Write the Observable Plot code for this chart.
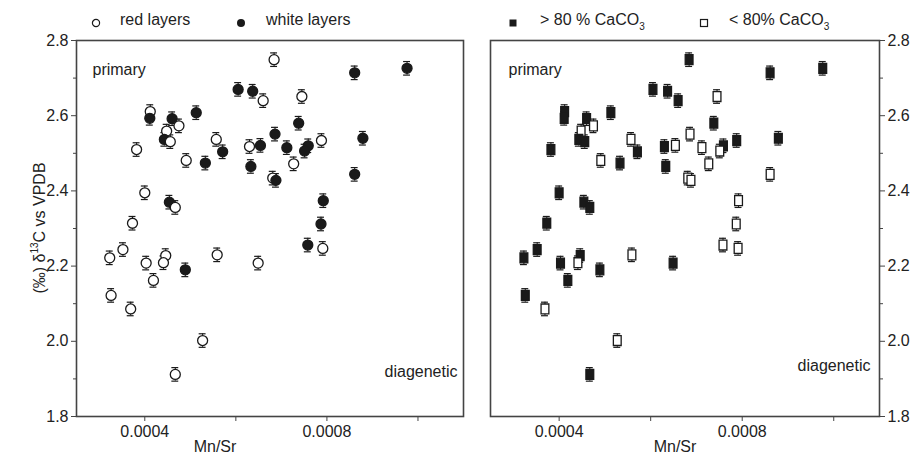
<!DOCTYPE html>
<html><head><meta charset="utf-8">
<script src="https://cdn.jsdelivr.net/npm/d3@7"></script>
<script src="https://cdn.jsdelivr.net/npm/@observablehq/plot@0.6"></script>
<style>
body{margin:0;background:#fff;}
#wrap{position:relative;width:914px;height:458px;font-family:"Liberation Sans",Arial,sans-serif;color:#222;font-size:16px;overflow:hidden;}
.abs{position:absolute;white-space:nowrap;line-height:1;}
.c{transform:translate(-50%,-50%);}
sub{font-size:10px;vertical-align:-5px;line-height:0;}
sup{font-size:10px;vertical-align:7px;line-height:0;}
</style></head><body>
<div id="wrap"></div>
<script>
// Mn/Sr ratio
const mnSr = [0.000684,0.000605,0.000637,0.000660,0.000412,0.000411,0.000460,0.000513,0.000448,0.000475,
              0.000443,0.000456,0.000382,0.000491,0.000533,0.000557,0.000571,0.000630,0.000654,0.000633,
              0.000686,0.000681,0.000688,0.000400,0.000454,0.000467,0.000373,0.000861,0.000976,0.000745,
              0.000738,0.000712,0.000759,0.000751,0.000788,0.000727,0.000879,0.000861,0.000792,0.000787,
              0.000758,0.000791,0.000649,0.000323,0.000352,0.000326,0.000369,0.000403,0.000419,0.000446,
              0.000441,0.000489,0.000559,0.000527,0.000467];
// d13C (permil vs VPDB)
const d13C = [2.749,2.670,2.665,2.640,2.611,2.593,2.592,2.608,2.559,2.573,
              2.537,2.531,2.510,2.481,2.474,2.537,2.504,2.518,2.521,2.465,
              2.551,2.434,2.428,2.395,2.370,2.356,2.314,2.714,2.726,2.651,
              2.580,2.515,2.520,2.506,2.534,2.472,2.540,2.444,2.374,2.312,
              2.256,2.247,2.208,2.222,2.244,2.122,2.086,2.208,2.162,2.228,
              2.209,2.190,2.230,2.002,1.912];
// layer type: r = red layers, w = white layers
const layer = ["r","w","w","r","r","w","w","w","r","r",
               "w","r","r","r","w","r","w","r","w","w",
               "w","r","w","r","w","r","r","w","w","r",
               "w","w","w","w","r","r","w","w","w","w",
               "w","r","r","r","r","r","r","r","r","r",
               "r","w","r","r","r"];
// CaCO3 class: hi = > 80 %, lo = < 80 %
const caco3 = ["hi","hi","hi","hi","hi","hi","hi","hi","lo","lo",
               "hi","hi","hi","lo","hi","lo","hi","hi","lo","hi",
               "lo","lo","lo","hi","hi","hi","hi","hi","hi","lo",
               "hi","lo","hi","lo","hi","lo","hi","lo","lo","lo",
               "lo","lo","hi","hi","hi","hi","lo","hi","hi","hi",
               "lo","hi","lo","lo","hi"];
const errHalf = 0.018;     // half error bar in d13C units
const capHalf = 0.0000076; // half width of error-bar caps in Mn/Sr units
const xTicks = [0.0004, 0.0008];
const xMinor = [0.0006, 0.001];
const yTicks = [1.8, 2.0, 2.2, 2.4, 2.6, 2.8];
const yMinor = [1.9, 2.1, 2.3, 2.5, 2.7];
const xDomain = [0.00025, 0.0011];
const yDomain = [1.8, 2.8];

const data = mnSr.map((x, i) => ({x, y: d13C[i], layer: layer[i], ca: caco3[i]}));
const INK = "#1a1a1a";

// slightly tall rectangle symbol, as in the reference
const tallSquare = {
  draw(ctx, size) {
    const s = Math.sqrt(size), w = s * 0.44, h = s * 0.56;
    ctx.moveTo(-w, -h); ctx.lineTo(w, -h); ctx.lineTo(w, h); ctx.lineTo(-w, h); ctx.closePath();
  }
};

function panel(o) {
  return Plot.plot({
    width: o.width, height: 458,
    marginLeft: o.ml, marginRight: o.mr, marginTop: 40, marginBottom: 42,
    style: {fontFamily: "'Liberation Sans', Arial, sans-serif", fontSize: "16px", color: "#222", background: "transparent", overflow: "visible"},
    x: {domain: xDomain},
    y: {domain: yDomain},
    marks: [
      Plot.axisX({ticks: xTicks, tickSize: 5, tickPadding: 4, tickFormat: d => d.toFixed(4), label: null, stroke: "#444"}),
      Plot.axisX({ticks: xMinor, tickSize: 5, tickFormat: () => "", label: null, stroke: "#444"}),
      Plot.axisY({anchor: o.yAnchor, ticks: yTicks, tickSize: 5, tickPadding: 3, tickFormat: d => d.toFixed(1), label: null, stroke: "#444"}),
      Plot.axisY({anchor: o.yAnchor, ticks: yMinor, tickSize: 3, tickFormat: () => "", label: null, stroke: "#444"}),
      Plot.frame({stroke: "#444", strokeWidth: 1.6}),
      Plot.ruleX(data, {x: "x", y1: d => d.y - errHalf, y2: d => d.y + errHalf, stroke: INK, strokeWidth: 1}),
      Plot.ruleY(data, {y: d => d.y - errHalf, x1: d => d.x - capHalf, x2: d => d.x + capHalf, stroke: INK, strokeWidth: 1.2}),
      Plot.ruleY(data, {y: d => d.y + errHalf, x1: d => d.x - capHalf, x2: d => d.x + capHalf, stroke: INK, strokeWidth: 1.2}),
      Plot.dot(data, {x: "x", y: "y", r: o.r, symbol: o.symbol, fill: o.fill, stroke: INK, strokeWidth: 1.3}),
      Plot.text(["primary"], {frameAnchor: "top-left", textAnchor: "start", lineAnchor: "middle", dx: o.pdx, dy: 29, fill: "#222", fontSize: 16}),
      Plot.text(["diagenetic"], {frameAnchor: "bottom-right", textAnchor: "end", lineAnchor: "middle", dx: o.ddx, dy: o.ddy, fill: "#222", fontSize: 16})
    ]
  });
}

const wrap = document.getElementById("wrap");

const left = panel({width: 470, ml: 76, mr: 7, yAnchor: "left", symbol: "circle", r: 5,
  fill: d => d.layer === "w" ? INK : "white", pdx: 16, ddx: -6, ddy: -45});
left.style.position = "absolute"; left.style.left = "0px"; left.style.top = "0px";
wrap.appendChild(left);

const right = panel({width: 444, ml: 20, mr: 35, yAnchor: "right", symbol: tallSquare, r: 5,
  fill: d => d.ca === "hi" ? INK : "white", pdx: 18, ddx: -9, ddy: -51});
right.style.position = "absolute"; right.style.left = "470px"; right.style.top = "0px";
wrap.appendChild(right);

function add(html, x, y, cls) {
  const d = document.createElement("div");
  d.className = "abs " + (cls || "");
  d.style.left = x + "px"; d.style.top = y + "px";
  d.innerHTML = html;
  wrap.appendChild(d);
  return d;
}
// legends
const circO = '<svg width="10" height="10"><circle cx="5" cy="5" r="3.6" fill="white" stroke="#1a1a1a" stroke-width="1.2"/></svg>';
const circF = '<svg width="10" height="10"><circle cx="5" cy="5" r="4" fill="#1a1a1a"/></svg>';
const sqF = '<svg width="10" height="10"><rect x="1.5" y="1.5" width="7" height="7" fill="#1a1a1a"/></svg>';
const sqO = '<svg width="10" height="10"><rect x="1.5" y="1.5" width="7" height="7" fill="white" stroke="#1a1a1a" stroke-width="1.2"/></svg>';
add(circO, 91, 15);
add("red layers", 120, 12);
add(circF, 236, 15);
add("white layers", 266, 12);
add(sqF, 508, 15);
add("&gt; 80 % CaCO<sub>3</sub>", 540, 12);
add(sqO, 699, 15);
add("&lt; 80% CaCO<sub>3</sub>", 729, 12);
// axis titles
add("Mn/Sr", 215, 447, "c");
add("Mn/Sr", 675, 447, "c");
const yl = add("(‰) δ<sup>13</sup>C vs VPDB", 40, 228);
yl.style.transform = "translate(-50%,-50%) rotate(-90deg)";
</script>
</body></html>
